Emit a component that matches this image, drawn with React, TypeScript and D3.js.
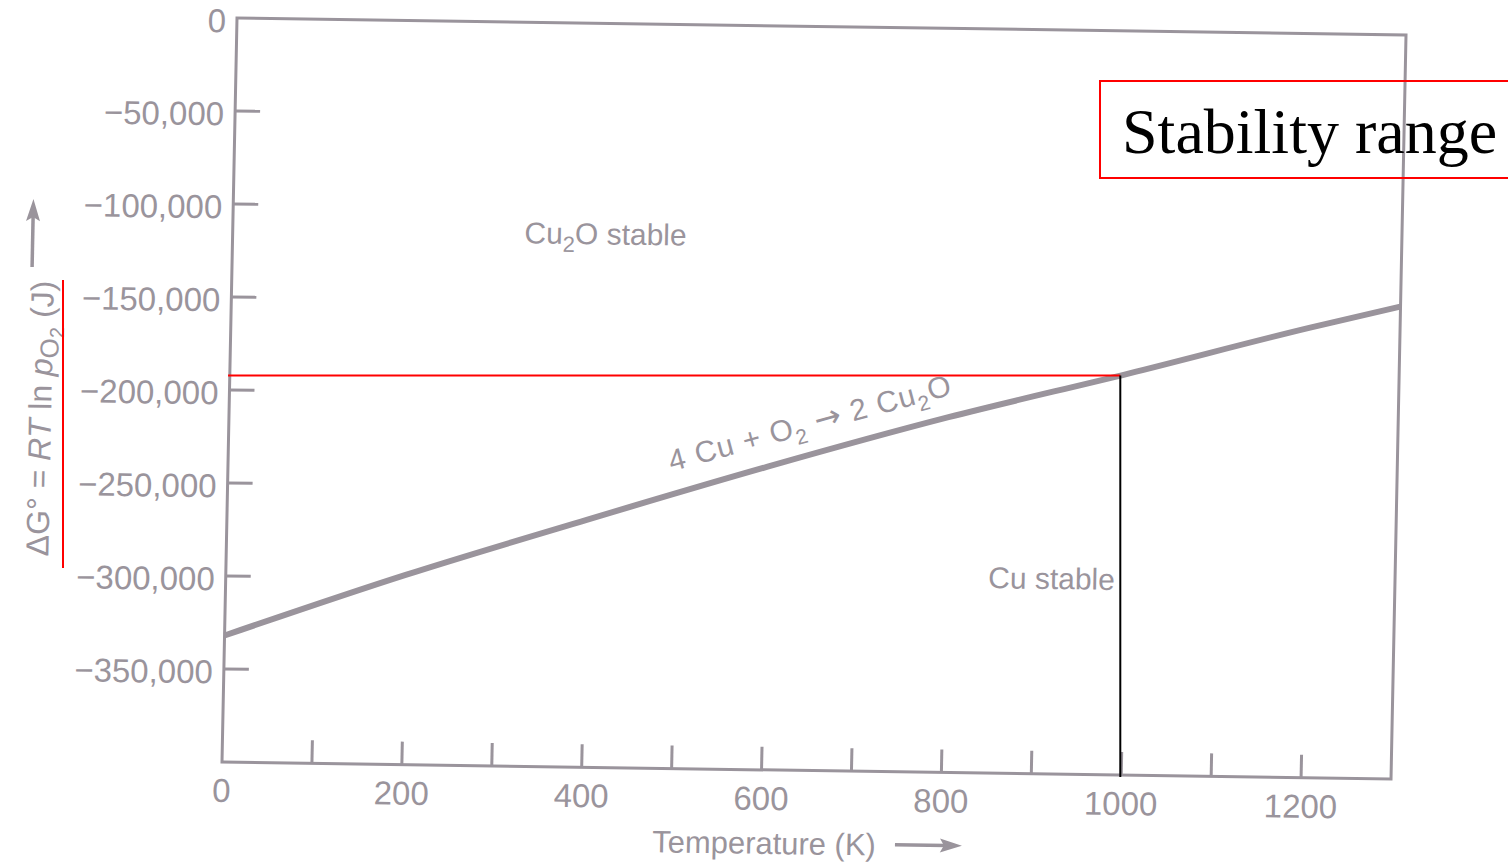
import React, { useEffect } from 'react';
import * as d3 from 'd3';

// Standard free energy of 4 Cu + O2 -> 2 Cu2O versus temperature
const temps = [0, 200, 400, 600, 800, 1000, 1200, 1300];
const deltaG = [-332000, -298000, -267000, -237000, -209000, -184000, -158000, -146000];

const xTicks = [100, 200, 300, 400, 500, 600, 700, 800, 900, 1000, 1100, 1200];
const xTickLabels = [0, 200, 400, 600, 800, 1000, 1200];
const yTicks = [-50000, -100000, -150000, -200000, -250000, -300000, -350000];
const yTickLabels = [0, -50000, -100000, -150000, -200000, -250000, -300000, -350000];

const markedT = 990;

const W = 1170;
const H = 744;
const INK = '#9a949c';
const FONT = '"Liberation Sans", Arial, sans-serif';

// slightly tilted sheet: local plot coords -> page coords
const M = { a: 0.99915, b: 0.01453, c: -0.02016, d: 1, e: 237, f: 18 };
const toPage = (u: number, v: number) => ({
  x: M.a * u + M.c * v + M.e,
  y: M.b * u + M.d * v + M.f,
});

export default function App() {
  useEffect(() => {
    document.body.style.margin = '0';
  }, []);

  const x = d3.scaleLinear().domain([0, 1300]).range([0, W]);
  const y = d3.scaleLinear().domain([-400000, 0]).range([H, 0]);
  const fmt = d3.format(',');

  const pts = temps.map((t, i) => [t, deltaG[i]] as [number, number]);
  const line = d3
    .line<[number, number]>()
    .x((p) => x(p[0]))
    .y((p) => y(p[1]))
    .curve(d3.curveMonotoneX);

  const interp = d3.scaleLinear().domain(temps).range(deltaG);
  const mark = toPage(x(markedT), y(interp(markedT)));
  const markBottom = toPage(x(markedT), H);
  const markLeft = toPage(0, y(interp(markedT)));

  return (
    <svg width={1508} height={864} style={{ display: 'block', background: '#fff' }}>
      <g transform={`matrix(${M.a} ${M.b} ${M.c} ${M.d} ${M.e} ${M.f})`} fontFamily={FONT} fill={INK}>
        {/* frame */}
        <rect x={0} y={0} width={W} height={H} fill="none" stroke={INK} strokeWidth={3} />

        {/* y ticks and labels */}
        {yTicks.map((t) => (
          <line key={'yt' + t} x1={0} x2={25} y1={y(t)} y2={y(t)} stroke={INK} strokeWidth={3} />
        ))}
        {yTickLabels.map((t) => (
          <text key={'yl' + t} x={-11} y={y(t)} dy="0.44em" textAnchor="end" fontSize={33}>
            {fmt(t)}
          </text>
        ))}

        {/* x ticks and labels */}
        {xTicks.map((t) => (
          <line key={'xt' + t} x1={x(t)} x2={x(t)} y1={H} y2={H - 23} stroke={INK} strokeWidth={3} />
        ))}
        {xTickLabels.map((t) => (
          <text key={'xl' + t} x={x(t)} y={H + 40} textAnchor="middle" fontSize={33}>
            {t}
          </text>
        ))}

        {/* x axis title */}
        <text x={432} y={H + 84} fontSize={31}>Temperature (K)</text>
        <g stroke={INK} strokeWidth={3.5}>
          <line x1={675} x2={726} y1={H + 73} y2={H + 73} />
        </g>
        <path d={`M742,${H + 73} L720,${H + 66} L724,${H + 73} L720,${H + 80} Z`} />

        {/* y axis title */}
        <text transform="translate(-178,541) rotate(-90)" fontSize={32}>
          <tspan>ΔG° = </tspan>
          <tspan fontStyle="italic">RT</tspan>
          <tspan> ln </tspan>
          <tspan fontStyle="italic">p</tspan>
          <tspan dy={6} fontSize={26}>O</tspan>
          <tspan dy={5} fontSize={20}>2</tspan>
          <tspan dy={-11}> (J)</tspan>
        </text>
        <g stroke={INK} strokeWidth={3.5}>
          <line x1={-200} x2={-200} y1={252} y2={200} />
        </g>
        <path d="M-200,184 L-207,206 L-200,202 L-193,206 Z" />

        {/* curve */}
        <path d={line(pts) ?? ''} fill="none" stroke={INK} strokeWidth={6} />

        {/* region and reaction labels */}
        <text x={292} y={221} fontSize={30}>
          Cu<tspan dy={8} fontSize={22}>2</tspan>
          <tspan dy={-8}>O stable</tspan>
        </text>
        <text x={763} y={559} fontSize={30}>Cu stable</text>
        <text transform="translate(444,447) rotate(-16.2)" fontSize={30} letterSpacing={1}>
          4 Cu + O<tspan dy={8} fontSize={21}>2</tspan>
          <tspan dy={-8}> </tspan>
          <tspan fontFamily='"DejaVu Sans", sans-serif' fontSize={32}>→</tspan>
          <tspan> 2 Cu</tspan>
          <tspan dy={8} fontSize={21}>2</tspan>
          <tspan dy={-8}>O</tspan>
        </text>
      </g>

      {/* annotation overlay */}
      <line x1={63} x2={63} y1={280} y2={568} stroke="#ff0000" strokeWidth={2} />
      <line x1={markLeft.x - 2} x2={mark.x} y1={mark.y} y2={mark.y} stroke="#ff0000" strokeWidth={2} />
      <line x1={mark.x} x2={mark.x} y1={mark.y} y2={markBottom.y + 2} stroke="#000" strokeWidth={2} />
      <rect x={1100} y={81} width={430} height={97} fill="none" stroke="#ff0000" strokeWidth={2} />
      <text x={1122} y={153} fontSize={64} fontFamily='"Liberation Serif", "Times New Roman", serif' fill="#000">
        Stability range
      </text>
    </svg>
  );
}
